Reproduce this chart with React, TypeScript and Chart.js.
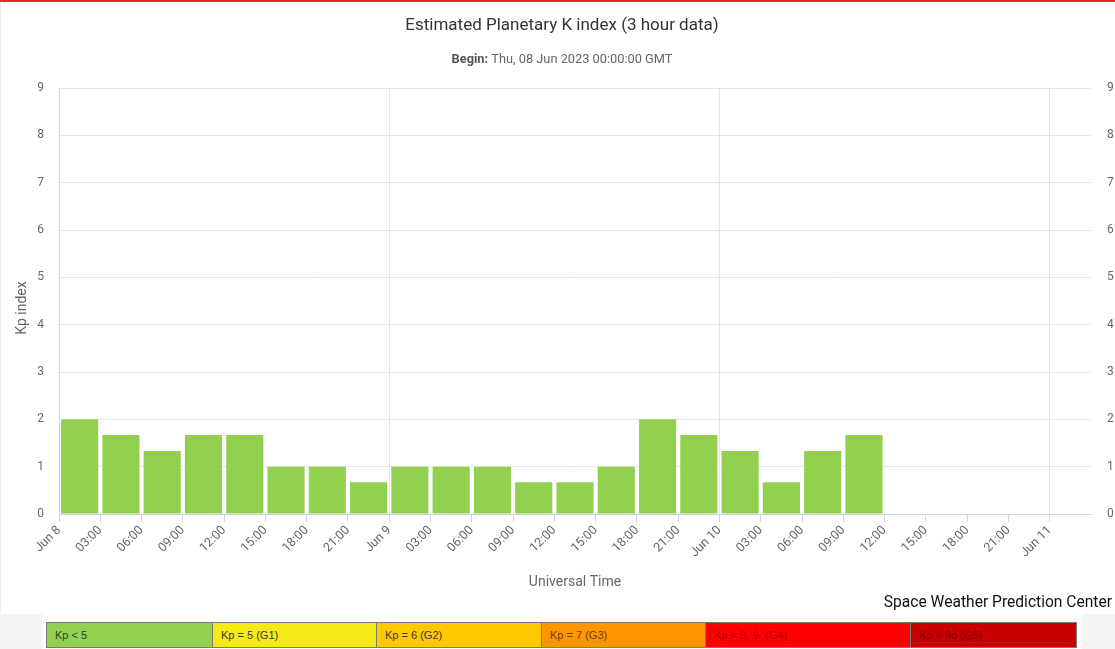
import React, { useEffect, useRef } from 'react';
import { Chart, registerables } from 'chart.js';

Chart.register(...registerables);

// ---------- data ----------
const kpValues = [2, 1.67, 1.33, 1.67, 1.67, 1, 1, 0.67, 1, 1, 1, 0.67, 0.67, 1, 2, 1.67, 1.33, 0.67, 1.33, 1.67];
const slotHours = 3;
const totalHours = 75;
const lastTickHour = 72;
const dayLabels = ['Jun 8', 'Jun 9', 'Jun 10', 'Jun 11'];
const yMin = 0;
const yMax = 9;

const titleText = 'Estimated Planetary K index (3 hour data)';
const beginLabel = 'Begin:';
const beginValue = 'Thu, 08 Jun 2023 00:00:00 GMT';
const yTitle = 'Kp index';
const xTitle = 'Universal Time';
const creditText = 'Space Weather Prediction Center';

const legendLabels = ['Kp < 5', 'Kp = 5 (G1)', 'Kp = 6 (G2)', 'Kp = 7 (G3)', 'Kp = 8, 9- (G4)', 'Kp = 9o (G5)'];
const legendColors = ['#92d050', '#f5e916', '#ffc800', '#ff9600', '#ff0000', '#c80000'];

// ---------- style ----------
const legendWidths = [165, 164, 165, 164, 205, 166];
const legendTextColors = ['#3a3a3a', '#3a3a3a', '#3a3a3a', '#6a4000', '#b00000', '#8a0000'];
const NARROW = "Roboto, 'Open Sans', sans-serif";
const BAR_COLOR = '#92d050';

const headerPlugin = {
  id: 'header',
  afterDraw(chart: any) {
    const ctx = chart.ctx;
    const cx = 562;
    ctx.save();
    ctx.textBaseline = 'middle';
    ctx.textAlign = 'center';
    ctx.fillStyle = '#333333';
    ctx.font = `17px ${NARROW}`;
    ctx.fillText(titleText, cx, 25.5);

    ctx.font = `bold 12.8px ${NARROW}`;
    const w1 = ctx.measureText(beginLabel + ' ').width;
    ctx.font = `12.8px ${NARROW}`;
    const w2 = ctx.measureText(beginValue).width;
    const start = cx - (w1 + w2) / 2;
    ctx.textAlign = 'left';
    ctx.font = `bold 12.8px ${NARROW}`;
    ctx.fillStyle = '#555555';
    ctx.fillText(beginLabel, start, 60);
    ctx.font = `12.8px ${NARROW}`;
    ctx.fillStyle = '#666666';
    ctx.fillText(beginValue, start + w1, 60);

    // y-axis title
    ctx.translate(22, 308);
    ctx.rotate(-Math.PI / 2);
    ctx.textAlign = 'center';
    ctx.font = `14px ${NARROW}`;
    ctx.fillStyle = '#666666';
    ctx.fillText(yTitle, 0, 0);
    ctx.restore();
  },
};

function formatTick(v: number): string {
  if (v % 24 === 0) return dayLabels[v / 24] ?? '';
  const h = v % 24;
  return (h < 10 ? '0' : '') + h + ':00';
}

export default function App() {
  const canvasRef = useRef<HTMLCanvasElement | null>(null);

  useEffect(() => {
    if (!canvasRef.current) return;
    const chart = new Chart(canvasRef.current, {
      type: 'bar',
      data: {
        datasets: [
          {
            data: kpValues.map((v, i) => ({ x: slotHours * i + slotHours / 2, y: v })),
            backgroundColor: BAR_COLOR,
            borderWidth: 0,
            barPercentage: 0.9,
            categoryPercentage: 1,
          },
        ],
      },
      options: {
        animation: false,
        responsive: false,
        maintainAspectRatio: false,
        layout: { padding: { top: 88, left: 0, right: 0, bottom: 0 } },
        plugins: {
          legend: { display: false },
          tooltip: { enabled: false },
          title: { display: false },
        },
        scales: {
          x: {
            type: 'linear',
            min: 0,
            max: totalHours,
            offset: false,
            afterBuildTicks: (scale: any) => {
              scale.ticks = scale.ticks.filter((t: any) => t.value <= lastTickHour);
            },
            afterFit: (scale: any) => {
              scale.height = 99;
            },
            grid: {
              offset: false,
              color: (c: any) =>
                c.tick && c.tick.value % 24 === 0 && c.tick.value > 0 ? '#e6e6e6' : 'rgba(0,0,0,0)',
              tickColor: '#ccd6eb',
              tickLength: 8,
              lineWidth: 1,
            },
            border: { color: '#ccd6eb', width: 1 },
            ticks: {
              stepSize: slotHours,
              autoSkip: false,
              maxRotation: 45,
              minRotation: 45,
              padding: 1,
              color: '#666666',
              font: { family: NARROW, size: 12.5 },
              callback: (v: any) => formatTick(Number(v)),
            },
            title: {
              display: true,
              text: xTitle,
              color: '#666666',
              font: { family: NARROW, size: 14 },
              padding: { top: 0, bottom: 22.6 },
            },
          },
          y: {
            type: 'linear',
            position: 'left',
            min: yMin,
            max: yMax,
            afterFit: (scale: any) => {
              scale.width = 59;
            },
            grid: { color: '#e6e6e6', drawTicks: false, lineWidth: 1 },
            border: { color: '#ccd6eb', width: 1 },
            ticks: {
              stepSize: 1,
              padding: 15,
              color: '#666666',
              font: { family: NARROW, size: 12 },
            },
            title: { display: false },
          },
          yRight: {
            type: 'linear',
            position: 'right',
            min: yMin,
            max: yMax,
            afterFit: (scale: any) => {
              scale.width = 24;
            },
            grid: { display: false, drawTicks: false },
            border: { display: false },
            ticks: {
              stepSize: 1,
              padding: 16,
              color: '#666666',
              font: { family: NARROW, size: 12 },
            },
          },
        },
      },
      plugins: [headerPlugin],
    } as any);
    return () => chart.destroy();
  }, []);

  let acc = 47;
  const segs = legendLabels.map((label, i) => {
    const left = acc;
    acc += legendWidths[i];
    return (
      <div
        key={label}
        style={{
          position: 'absolute',
          left: left - 47,
          top: 0,
          width: legendWidths[i],
          height: 24,
          boxSizing: 'border-box',
          background: legendColors[i],
          borderLeft: i === 0 ? 'none' : '1px solid #7a7a7a',
          color: legendTextColors[i],
          fontFamily: "'Liberation Sans', Arial, sans-serif",
          fontSize: 11,
          lineHeight: '24px',
          paddingLeft: 8,
          whiteSpace: 'nowrap',
        }}
      >
        {label}
      </div>
    );
  });

  return (
    <div style={{ position: 'absolute', left: 0, top: 0, width: 1115, height: 649, background: '#ffffff', overflow: 'hidden' }}>
      <canvas ref={canvasRef} width={1115} height={613} style={{ display: 'block', position: 'absolute', left: 0, top: 0 }} />
      <div style={{ position: 'absolute', left: 0, top: 0, width: 1115, height: 2, background: '#e3262b' }} />
      <div style={{ position: 'absolute', left: 0, top: 2, width: 1, height: 611, background: '#ececec' }} />
      <div
        style={{
          position: 'absolute',
          right: 3,
          top: 590,
          fontFamily: NARROW,
          fontSize: 15.6,
          color: '#111111',
          whiteSpace: 'nowrap',
          lineHeight: '24px',
        }}
      >
        {creditText}
      </div>
      <div style={{ position: 'absolute', left: 0, top: 614, width: 1115, height: 35, background: '#f4f4f4' }} />
      <div style={{ position: 'absolute', left: 42, top: 614, width: 1040, height: 35, background: '#ffffff' }} />
      <div
        style={{
          position: 'absolute',
          left: 47,
          top: 623,
          width: 1029,
          height: 24,
          border: '1px solid #7a7a7a',
          boxSizing: 'content-box',
          marginLeft: -1,
          marginTop: -1,
        }}
      >
        {segs}
      </div>
    </div>
  );
}
